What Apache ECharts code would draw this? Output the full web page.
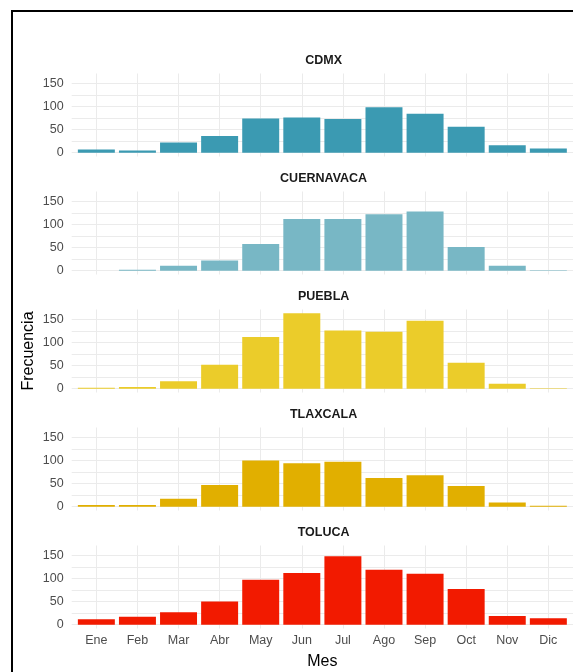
<!DOCTYPE html>
<html><head><meta charset="utf-8">
<script src="https://cdn.jsdelivr.net/npm/echarts@6/dist/echarts.min.js"></script>
<style>html,body{margin:0;padding:0;background:#fff;overflow:hidden}#c{width:573px;height:672px}</style>
</head><body><div id="c"></div>
<script>
const months = ['Ene','Feb','Mar','Abr','May','Jun','Jul','Ago','Sep','Oct','Nov','Dic'];
const cities = ['CDMX','CUERNAVACA','PUEBLA','TLAXCALA','TOLUCA'];
const cdmx = [7,5,22,36,74,76,73,98,84,56,16,9];
const cuernavaca = [0,2,11,22,58,112,112,122,128,51,11,1];
const puebla = [2,4,16,52,112,163,126,123,147,56,11,1];
const tlaxcala = [4,4,17,47,100,94,97,62,68,45,9,2];
const toluca = [12,17,27,50,97,112,148,119,110,77,19,14];
const yTickLabels = [0,50,100,150];

const seriesValues = [cdmx, cuernavaca, puebla, tlaxcala, toluca];
const colors = ['#3B9AB2','#78B7C5','#EBCC2A','#E1AF00','#F21A00'];

const FONT = 'Liberation Sans, Arial, sans-serif';
const panelLeft = 71.7, panelWidth = 503.8, panelHeight = 83;
const panelTops = [73.5, 191.5, 309.5, 427.5, 545.5];
const gridColor = '#ebebeb';

// ggplot-like expansion
const allVals = [].concat(...seriesValues);
const yMaxData = Math.max(...allVals);
const yMin = -0.05 * yMaxData, yMax = yMaxData * 1.05;
const xMin = 0.4, xMax = months.length + 0.6;

const grids = [], xAxes = [], yAxes = [], series = [], graphics = [];
cities.forEach((city, i) => {
  const last = i === cities.length - 1;
  grids.push({left: panelLeft, top: panelTops[i], width: panelWidth, height: panelHeight, containLabel: false});
  xAxes.push({
    type: 'value', gridIndex: i, min: xMin, max: xMax, minInterval: 1, maxInterval: 1,
    axisLine: {show: false}, axisTick: {show: false},
    splitLine: {show: true, showMinLine: false, showMaxLine: false, lineStyle: {color: gridColor, width: 1}},
    axisLabel: {show: last, margin: 6, color: '#4d4d4d', fontSize: 12.5, fontFamily: FONT,
      showMinLabel: false, showMaxLabel: false,
      formatter: v => (Number.isInteger(v) && v >= 1 && v <= months.length) ? months[v - 1] : ''},
    name: last ? 'Mes' : '', nameLocation: 'middle', nameGap: 25,
    nameTextStyle: {color: '#000', fontSize: 16, fontFamily: FONT}
  });
  yAxes.push({
    type: 'value', gridIndex: i, min: yMin, max: yMax, minInterval: 25, maxInterval: 25,
    axisLine: {show: false}, axisTick: {show: false},
    splitLine: {show: true, showMinLine: false, showMaxLine: false, lineStyle: {color: gridColor, width: 1}},
    axisLabel: {margin: 8, color: '#4d4d4d', fontSize: 12.5, fontFamily: FONT,
      showMinLabel: false, showMaxLabel: false,
      formatter: v => yTickLabels.includes(v) ? String(v) : ''},
    name: i === 2 ? 'Frecuencia' : '', nameLocation: 'middle', nameGap: 35, nameRotate: 90,
    nameMoveOverlap: false,
    nameTextStyle: {color: '#000', fontSize: 16, fontFamily: FONT}
  });
  series.push({
    type: 'bar', name: city, xAxisIndex: i, yAxisIndex: i, barWidth: '90%',
    itemStyle: {color: colors[i]}, silent: true, animation: false,
    data: seriesValues[i].map((v, k) => [k + 1, v])
  });
  graphics.push({
    type: 'text', x: panelLeft + panelWidth / 2, y: panelTops[i] - 13,
    style: {text: city, fill: '#1a1a1a', font: 'bold 12.5px ' + FONT, textAlign: 'center', textVerticalAlign: 'middle'}
  });
});
graphics.push({type: 'rect', shape: {x: 12, y: 11, width: 620, height: 720},
  style: {fill: 'none', stroke: '#000', lineWidth: 2}, z: 10});

const chart = echarts.init(document.getElementById('c'), null, {renderer: 'canvas'});
chart.setOption({
  animation: false,
  backgroundColor: '#fff',
  grid: grids, xAxis: xAxes, yAxis: yAxes, series: series, graphic: graphics
});
</script></body></html>
